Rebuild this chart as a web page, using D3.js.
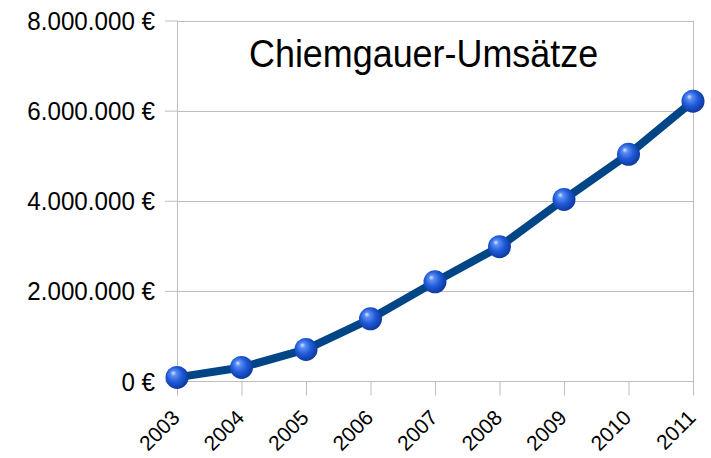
<!DOCTYPE html>
<html>
<head>
<meta charset="utf-8">
<script src="https://cdn.jsdelivr.net/npm/d3@7"></script>
<style>
  body { margin: 0; background: #fff; }
  text { font-family: "Liberation Sans", Arial, sans-serif; fill: #000; }
</style>
</head>
<body>
<div id="chart"></div>
<script>
// Data
// ==================================================================
const years = ["2003", "2004", "2005", "2006", "2007", "2008", "2009", "2010", "2011"];
const umsatz = [80000, 300000, 700000, 1380000, 2200000, 2980000, 4030000, 5030000, 6210000];
const yTicks = [0, 2000000, 4000000, 6000000, 8000000];
const title = "Chiemgauer-Umsätze";

// Layout
// ==================================================================
const W = 711, H = 458,
    plot = {left: 177, right: 693, top: 20.5, bottom: 381};

const fmt = v => d3.format(",")(v).replace(/,/g, ".") + " €";

let xScale = d3.scalePoint()
    .domain(years)
    .range([plot.left, plot.right]);

let yScale = d3.scaleLinear()
    .domain([0, 8000000])
    .range([plot.bottom, plot.top]);

let svg = d3.select("#chart")
    .append("svg")
        .attr("width", W)
        .attr("height", H);

// Marker gradient
let defs = svg.append("defs");
let grad = defs.append("radialGradient")
    .attr("id", "ball")
    .attr("cx", "45%").attr("cy", "45%").attr("r", "60%")
    .attr("fx", "33%").attr("fy", "30%");
grad.append("stop").attr("offset", "0%").attr("stop-color", "#d8e6ff");
grad.append("stop").attr("offset", "20%").attr("stop-color", "#5a8cf2");
grad.append("stop").attr("offset", "55%").attr("stop-color", "#1f5ad8");
grad.append("stop").attr("offset", "100%").attr("stop-color", "#0c3396");

// Grid + y axis
// ==================================================================
svg.append("g")
    .attr("transform", "translate(" + plot.left + ",0)")
    .call(d3.axisLeft(yScale)
        .tickValues(yTicks)
        .tickSize(12)
        .tickFormat(""))
    .call(g => g.select(".domain").remove())
    .call(g => g.selectAll("line").attr("stroke", "#bdbdbd"));

svg.append("g")
    .selectAll("line")
    .data(yTicks)
    .enter()
    .append("line")
        .attr("x1", plot.left)
        .attr("x2", plot.right)
        .attr("y1", d => Math.round(yScale(d)) + 0.5)
        .attr("y2", d => Math.round(yScale(d)) + 0.5)
        .attr("stroke", "#bdbdbd");

svg.append("g")
    .selectAll("text")
    .data(yTicks)
    .enter()
    .append("text")
        .attr("transform", d => "translate(155," + (yScale(d) + 9.5) + ") scale(0.93,1)")
        .attr("text-anchor", "end")
        .attr("font-size", "26px")
        .text(fmt);

// x axis ticks
// ==================================================================
svg.append("g")
    .attr("transform", "translate(0," + (Math.round(plot.bottom) + 0.5) + ")")
    .call(d3.axisBottom(xScale).tickSize(14).tickFormat(""))
    .call(g => g.select(".domain").remove())
    .call(g => g.selectAll("line").attr("stroke", "#bdbdbd"));

// left axis + right border
[plot.left, plot.right].forEach(x => {
    svg.append("line")
        .attr("x1", Math.round(x) + 0.5).attr("x2", Math.round(x) + 0.5)
        .attr("y1", plot.top).attr("y2", plot.bottom + 14)
        .attr("stroke", "#bdbdbd");
});

svg.append("g")
    .selectAll("text")
    .data(years)
    .enter()
    .append("text")
        .attr("transform", d => "translate(" + (xScale(d) + 4) + ",419) rotate(-45)")
        .attr("text-anchor", "end")
        .attr("font-size", "21px")
        .text(d => d);

// Series
// ==================================================================
let line = d3.line()
    .x((d, i) => xScale(years[i]))
    .y(d => yScale(d));

svg.append("path")
    .datum(umsatz)
    .attr("fill", "none")
    .attr("stroke", "#004586")
    .attr("stroke-width", 8)
    .attr("stroke-linejoin", "round")
    .attr("d", line);

svg.append("g")
    .selectAll("circle")
    .data(umsatz)
    .enter()
    .append("circle")
        .attr("cx", (d, i) => xScale(years[i]))
        .attr("cy", d => yScale(d))
        .attr("r", 11.5)
        .attr("fill", "url(#ball)");

// Title
// ==================================================================
svg.append("text")
    .attr("transform", "translate(249,67) scale(0.945,1)")
    .attr("font-size", "38px")
    .text(title);
</script>
</body>
</html>
